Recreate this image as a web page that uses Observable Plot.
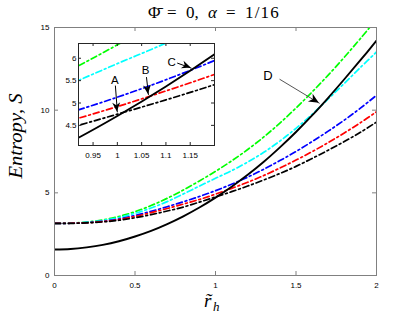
<!DOCTYPE html>
<html><head><meta charset="utf-8">
<script src="https://cdn.jsdelivr.net/npm/d3@7"></script>
<script src="https://cdn.jsdelivr.net/npm/@observablehq/plot@0.6"></script>
<style>
body{margin:0;background:#fff;}
#wrap{position:relative;width:415px;height:313px;overflow:hidden;background:#fff;}
#wrap svg{position:absolute;overflow:visible;}
</style></head><body><div id="wrap"></div>
<script>
// horizon radius samples
const r = [0,0.1,0.2,0.3,0.4,0.5,0.6,0.7,0.8,0.9,1.0,1.1,1.2,1.3,1.4,1.5,1.6,1.7,1.8,1.9,2.0];
// solid black curve
const sSolid   = [1.57,1.60,1.70,1.85,2.07,2.36,2.70,3.11,3.58,4.11,4.71,5.37,6.09,6.88,7.75,8.68,9.68,10.75,11.87,13.02,14.20];
// dash-dot curves
const sGreen   = [3.15,3.17,3.23,3.36,3.57,3.86,4.23,4.67,5.17,5.72,6.30,6.93,7.62,8.38,9.22,10.13,11.10,12.12,13.20,14.33,15.50];
const sCyan    = [3.15,3.16,3.22,3.33,3.50,3.76,4.08,4.47,4.93,5.41,5.88,6.34,6.86,7.45,8.13,8.90,9.75,10.68,11.62,12.58,13.52];
const sBlue    = [3.15,3.16,3.20,3.28,3.42,3.63,3.88,4.16,4.46,4.78,5.13,5.52,5.95,6.43,6.95,7.50,8.10,8.73,9.40,10.12,10.90];
const sRed     = [3.15,3.16,3.19,3.26,3.39,3.57,3.80,4.05,4.32,4.60,4.92,5.27,5.64,6.05,6.50,6.98,7.49,8.04,8.62,9.24,9.90];
const sBlackDD = [3.15,3.15,3.18,3.24,3.34,3.49,3.68,3.90,4.14,4.44,4.75,5.07,5.41,5.78,6.17,6.60,7.08,7.58,8.10,8.66,9.28];

const dashSeries = [
  {name:"green", color:"#00ff00", values:sGreen},
  {name:"cyan", color:"#00ffff", values:sCyan},
  {name:"blue", color:"#0000ff", values:sBlue},
  {name:"red", color:"#ff0000", values:sRed},
  {name:"blackDD", color:"#000000", values:sBlackDD}
];

// ticks
const xTicksMain = [0,0.5,1,1.5,2];
const yTicksMain = [0,5,10,15];
const xTicksInset = [0.95,1,1.05,1.1,1.15];
const yTicksInset = [4.5,5,5.5,6];

// annotations: label position, arrow tail, arrow tip
const annMain = [{label:"D", lx:1.325, ly:12.07, x1:1.40, y1:11.86, x2:1.645, y2:10.42}];
const annInset = [
  {label:"A", lx:0.995, ly:5.51, x1:0.996, y1:5.38, x2:1.0, y2:4.80},
  {label:"B", lx:1.058, ly:5.72, x1:1.060, y1:5.57, x2:1.064, y2:5.19},
  {label:"C", lx:1.112, ly:5.92, x1:1.124, y1:5.89, x2:1.152, y2:5.78}
];

// title pieces (left edges)
const titleParts = [
  {text:"\u03A6\u0304", x:148, italic:false, ls:0},
  {text:"=", x:167, italic:false, ls:0},
  {text:"0,", x:186, italic:false, ls:0},
  {text:"\u03B1", x:208, italic:true, ls:0},
  {text:"=", x:226, italic:false, ls:0},
  {text:"1/16", x:245, italic:false, ls:1.2}
];

const solidRows = r.map((x,i)=>({r:x, s:sSolid[i]}));
const dashPattern = "6,3,1.8,3";

function lineMarks(){
  const marks = dashSeries.map(ser =>
    Plot.line(r.map((x,i)=>({r:x, s:ser.values[i]})), {x:"r", y:"s", stroke:ser.color, strokeWidth:1.7,
      strokeDasharray:dashPattern, curve:"catmull-rom", clip:true}));
  marks.push(Plot.line(solidRows, {x:"r", y:"s", stroke:"#000", strokeWidth:1.9, curve:"catmull-rom", clip:true}));
  return marks;
}

const wrap = document.getElementById("wrap");
const W = 415, H = 313, mL = 54, mR = 39, mT = 27, mB = 38;
const fW = W-mL-mR, fH = H-mT-mB;
const axisGray = "#808080";
const sans = "'Liberation Sans', Arial, Helvetica, sans-serif";

const main = Plot.plot({
  width: W, height: H, marginLeft: mL, marginRight: mR, marginTop: mT, marginBottom: mB,
  x: {domain:[0,2]}, y: {domain:[0,15]},
  style: {fontFamily: sans, fontSize: "8px", background: "transparent", color: "#000"},
  marks: [
    ...lineMarks(),
    Plot.frame({stroke: axisGray}),
    Plot.ruleX(xTicksMain, {x: d=>d, insetTop: fH-4, stroke: axisGray}),
    Plot.ruleX(xTicksMain, {x: d=>d, insetBottom: fH-4, stroke: axisGray}),
    Plot.ruleY(yTicksMain, {y: d=>d, insetRight: fW-4, stroke: axisGray}),
    Plot.ruleY(yTicksMain, {y: d=>d, insetLeft: fW-4, stroke: axisGray}),
    Plot.axisX({ticks: xTicksMain, tickSize: 0, tickPadding: 7, label: null, tickFormat: d=>String(d)}),
    Plot.axisY({ticks: yTicksMain, tickSize: 0, tickPadding: 5, label: null, tickFormat: d=>String(d)}),
    Plot.arrow(annMain, {x1:"x1", y1:"y1", x2:"x2", y2:"y2", stroke:"#555", strokeWidth:1, headLength:0}),
    Plot.text(annMain, {x:"lx", y:"ly", text:"label", fontSize:13, fontFamily: sans, fill:"#000"})
  ]
});
main.style.left = "0px"; main.style.top = "0px";
wrap.appendChild(main);

// inset
const iFx0 = 78.3, iFy0 = 42.7, iFW = 136, iFH = 102;
const imL = 30, imR = 2, imT = 2, imB = 18;
const inset = Plot.plot({
  width: imL+iFW+imR, height: imT+iFH+imB, marginLeft: imL, marginRight: imR, marginTop: imT, marginBottom: imB,
  x: {domain:[0.92,1.2]}, y: {domain:[4.05,6.33]},
  style: {fontFamily: sans, fontSize: "8px", background: "transparent", color: "#000"},
  marks: [
    Plot.frame({fill: "white", stroke: "none"}),
    ...lineMarks(),
    Plot.frame({stroke: "#262626"}),
    Plot.ruleX(xTicksInset, {x: d=>d, insetTop: iFH-3, stroke: "#262626"}),
    Plot.ruleX(xTicksInset, {x: d=>d, insetBottom: iFH-3, stroke: "#262626"}),
    Plot.ruleY(yTicksInset, {y: d=>d, insetRight: iFW-3, stroke: "#262626"}),
    Plot.ruleY(yTicksInset, {y: d=>d, insetLeft: iFW-3, stroke: "#262626"}),
    Plot.axisX({ticks: xTicksInset, tickSize: 0, tickPadding: 7, label: null, tickFormat: d=>String(d)}),
    Plot.axisY({ticks: yTicksInset, tickSize: 0, tickPadding: 2, label: null, tickFormat: d=>String(d)}),
    Plot.arrow(annInset, {x1:"x1", y1:"y1", x2:"x2", y2:"y2", stroke:"#000", strokeWidth:1, headLength:0}),
    Plot.text(annInset, {x:"lx", y:"ly", text:"label", fontSize:11.5, fontFamily: sans, fill:"#000"})
  ]
});
inset.style.left = (iFx0 - imL) + "px"; inset.style.top = (iFy0 - imT) + "px";
wrap.appendChild(inset);

// filled arrow heads positioned through the plots' scales
function addHeads(svgEl, ann, len, halfW){
  const sx = svgEl.scale("x"), sy = svgEl.scale("y");
  const fx = d3.scaleLinear(sx.domain, sx.range), fy = d3.scaleLinear(sy.domain, sy.range);
  const g = d3.select(svgEl).append("g");
  ann.forEach(a => {
    const X1 = fx(a.x1), Y1 = fy(a.y1), X2 = fx(a.x2), Y2 = fy(a.y2);
    const dx = X2-X1, dy = Y2-Y1, L = Math.hypot(dx,dy), ux = dx/L, uy = dy/L;
    const bx = X2 - ux*len, by = Y2 - uy*len;
    const nx = X2 - ux*len*0.7, ny = Y2 - uy*len*0.7;
    g.append("path")
      .attr("d", `M${X2},${Y2}L${bx - uy*halfW},${by + ux*halfW}L${nx},${ny}L${bx + uy*halfW},${by - ux*halfW}Z`)
      .attr("fill", "#000");
  });
}
addHeads(main, annMain, 10, 4.5);
addHeads(inset, annInset, 9, 4);

// title and axis labels
const serif = "'Liberation Serif', 'Times New Roman', serif";
const ms = d3.select(main);
titleParts.forEach(p => {
  ms.append("text").attr("x", p.x).attr("y", 17.5)
    .attr("text-anchor", "start")
    .style("font-family", serif).style("font-size", "17px")
    .style("font-style", p.italic ? "italic" : "normal")
    .style("letter-spacing", p.ls + "px")
    .attr("fill", "#000").text(p.text);
});

ms.append("text")
  .attr("transform", "translate(22,136) rotate(-90)")
  .attr("text-anchor", "middle")
  .style("font-family", serif).style("font-style", "italic").style("font-size", "19.5px")
  .attr("textLength", 85).attr("lengthAdjust", "spacingAndGlyphs")
  .attr("fill", "#000")
  .text("Entropy, S");

ms.append("text").attr("x", 204).attr("y", 307).attr("text-anchor", "start")
  .style("font-family", serif).style("font-style", "italic").style("font-size", "19px")
  .attr("fill", "#000").text("r\u0303");
ms.append("text").attr("x", 213).attr("y", 311).attr("text-anchor", "start")
  .style("font-family", serif).style("font-style", "italic").style("font-size", "13px")
  .attr("fill", "#000").text("h");
</script></body></html>
